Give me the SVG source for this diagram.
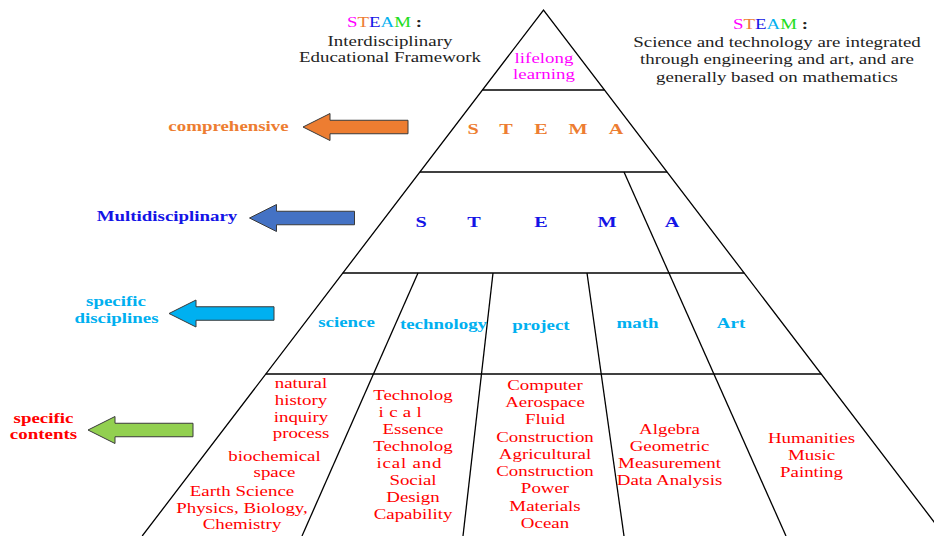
<svg xmlns="http://www.w3.org/2000/svg" width="934" height="536" viewBox="0 0 934 536">
  <style>
    text { font-family: "Liberation Serif", "Times New Roman", "Noto Sans CJK SC", serif; font-size: 14px; text-anchor: middle; }
    .b { font-weight: bold; }
    .big { font-size: 15px; font-weight: bold; }
    .ink { fill: #222222; }
    .mag { fill: #FF00FF; }
    .org { fill: #ED7D31; }
    .blu { fill: #1414E6; }
    .cyn { fill: #00B0F0; }
    .grn { fill: #22DD22; }
    .red { fill: #FF0000; }
    .edge { fill: none; stroke: #000000; stroke-width: 1.3; }
    .arrow { stroke: #3A3A3A; stroke-width: 1; }
  </style>
  <defs>
    <!-- left-pointing block arrow, tip at origin -->
    <path id="leftArrow" d="M0,0 L27,-13.5 L27,-6.75 L105,-6.75 L105,6.75 L27,6.75 L27,13.5 Z"/>
  </defs>

  <rect width="934" height="536" fill="#FFFFFF"/>

  <!-- pyramid outline, tier rules and column dividers -->
  <g id="connectors">
    <polyline class="edge" points="142.2,536 543.5,10 944.8,536"/>
    <line class="edge" x1="482.5" y1="90" x2="604.5" y2="90"/>
    <line class="edge" x1="419.9" y1="172" x2="667.1" y2="172"/>
    <line class="edge" x1="342.8" y1="273" x2="744.2" y2="273"/>
    <line class="edge" x1="265.8" y1="374" x2="821.2" y2="374"/>
    <line class="edge" x1="418" y1="273" x2="302" y2="536"/>
    <line class="edge" x1="493" y1="273" x2="463" y2="536"/>
    <line class="edge" x1="587" y1="273" x2="624" y2="536"/>
    <line class="edge" x1="624" y1="172" x2="786" y2="536"/>
  </g>

  <!-- captions -->
  <g id="caption-left" transform="translate(390 0) scale(1.35 1)">
    <text x="-31.9" y="27" style="text-anchor:start"><tspan class="mag">S</tspan><tspan class="org">T</tspan><tspan class="blu">E</tspan><tspan class="cyn">A</tspan><tspan class="grn">M</tspan><tspan class="ink b"> :</tspan></text>
    <text class="ink" x="0" y="46">Interdisciplinary</text>
    <text class="ink" x="0" y="62.5">Educational Framework</text>
  </g>
  <g id="caption-right" transform="translate(777 0) scale(1.35 1)">
    <text x="-32.6" y="29.3" style="text-anchor:start"><tspan class="mag">S</tspan><tspan class="org">T</tspan><tspan class="blu">E</tspan><tspan class="cyn">A</tspan><tspan class="grn">M</tspan><tspan class="ink b"> :</tspan></text>
    <text class="ink" x="0" y="47.3">Science and technology are integrated</text>
    <text class="ink" x="0" y="64">through engineering and art, and are</text>
    <text class="ink" x="0" y="82">generally based on mathematics</text>
  </g>

  <!-- tier 1 -->
  <g id="tier-lifelong" transform="translate(544 0) scale(1.35 1)">
    <text class="mag" x="0" y="63">lifelong</text>
    <text class="mag" x="0" y="79">learning</text>
  </g>

  <!-- tier 2 -->
  <g id="tier-comprehensive">
    <use href="#leftArrow" class="org arrow" transform="translate(303 127)"/>
    <g transform="scale(1.35 1)">
      <text class="b org" x="169.3" y="131">comprehensive</text>
      <text class="big org" x="350.4" y="134">S</text>
      <text class="big org" x="374.8" y="134">T</text>
      <text class="big org" x="400.7" y="134">E</text>
      <text class="big org" x="428.1" y="134">M</text>
      <text class="big org" x="456.3" y="134">A</text>
    </g>
  </g>

  <!-- tier 3 -->
  <g id="tier-multidisciplinary">
    <use href="#leftArrow" class="blu arrow" transform="translate(249.5 218)" style="fill:#4472C4"/>
    <g transform="scale(1.35 1)">
      <text class="b blu" x="123.7" y="221">Multidisciplinary</text>
      <text class="big blu" x="311.9" y="227">S</text>
      <text class="big blu" x="351.1" y="227">T</text>
      <text class="big blu" x="400.7" y="227">E</text>
      <text class="big blu" x="449.6" y="227">M</text>
      <text class="big blu" x="497.8" y="227">A</text>
    </g>
  </g>

  <!-- tier 4 -->
  <g id="tier-disciplines">
    <use href="#leftArrow" class="cyn arrow" transform="translate(169 313.5)"/>
    <g transform="scale(1.35 1)">
      <text class="b cyn" x="85.9" y="306">specific</text>
      <text class="b cyn" x="86.3" y="323">disciplines</text>
      <text class="b cyn" x="256.7" y="327.5">science</text>
      <text class="b cyn" x="328.5" y="329">technology</text>
      <text class="b cyn" x="400.7" y="330">project</text>
      <text class="b cyn" x="472.2" y="328">math</text>
      <text class="b cyn" x="541.5" y="328">Art</text>
    </g>
  </g>

  <!-- tier 5 -->
  <g id="tier-contents">
    <use href="#leftArrow" class="arrow" transform="translate(88 430)" style="fill:#92D050"/>
    <g transform="scale(1.35 1)">
      <text class="b red" x="32.2" y="423">specific</text>
      <text class="b red" x="32.2" y="439">contents</text>
    </g>
  </g>

  <g id="content-science">
    <g transform="translate(301 0) scale(1.35 1)">
      <text class="red" x="0" y="388">natural</text>
      <text class="red" x="0" y="405">history</text>
      <text class="red" x="0" y="421.7">inquiry</text>
      <text class="red" x="0" y="438">process</text>
    </g>
    <g transform="translate(274.5 0) scale(1.35 1)">
      <text class="red" x="0" y="461">biochemical</text>
      <text class="red" x="0" y="477">space</text>
    </g>
    <g transform="translate(242 0) scale(1.35 1)">
      <text class="red" x="0" y="495.7">Earth Science</text>
      <text class="red" x="0" y="513.3">Physics, Biology,</text>
      <text class="red" x="0" y="529.3">Chemistry</text>
    </g>
  </g>

  <g id="content-technology" transform="translate(413 0) scale(1.35 1)">
    <text class="red" x="0" y="400">Technolog</text>
    <text class="red" x="-9.5" y="417" textLength="32" lengthAdjust="spacing">ical</text>
    <text class="red" x="0" y="434">Essence</text>
    <text class="red" x="0" y="451">Technolog</text>
    <text class="red" x="-3" y="468" textLength="48" lengthAdjust="spacing">ical and</text>
    <text class="red" x="0" y="485">Social</text>
    <text class="red" x="0" y="502">Design</text>
    <text class="red" x="0" y="519">Capability</text>
  </g>

  <g id="content-project" transform="translate(545 0) scale(1.35 1)">
    <text class="red" x="0" y="390">Computer</text>
    <text class="red" x="0" y="407.3">Aerospace</text>
    <text class="red" x="0" y="424.5">Fluid</text>
    <text class="red" x="0" y="441.8">Construction</text>
    <text class="red" x="0" y="459">Agricultural</text>
    <text class="red" x="0" y="476.3">Construction</text>
    <text class="red" x="0" y="493.5">Power</text>
    <text class="red" x="0" y="510.8">Materials</text>
    <text class="red" x="0" y="528">Ocean</text>
  </g>

  <g id="content-math" transform="translate(669.5 0) scale(1.35 1)">
    <text class="red" x="0" y="434">Algebra</text>
    <text class="red" x="0" y="451">Geometric</text>
    <text class="red" x="0" y="468">Measurement</text>
    <text class="red" x="0" y="485">Data Analysis</text>
  </g>

  <g id="content-art" transform="translate(811.5 0) scale(1.35 1)">
    <text class="red" x="0" y="443">Humanities</text>
    <text class="red" x="0" y="460">Music</text>
    <text class="red" x="0" y="477">Painting</text>
  </g>
</svg>
